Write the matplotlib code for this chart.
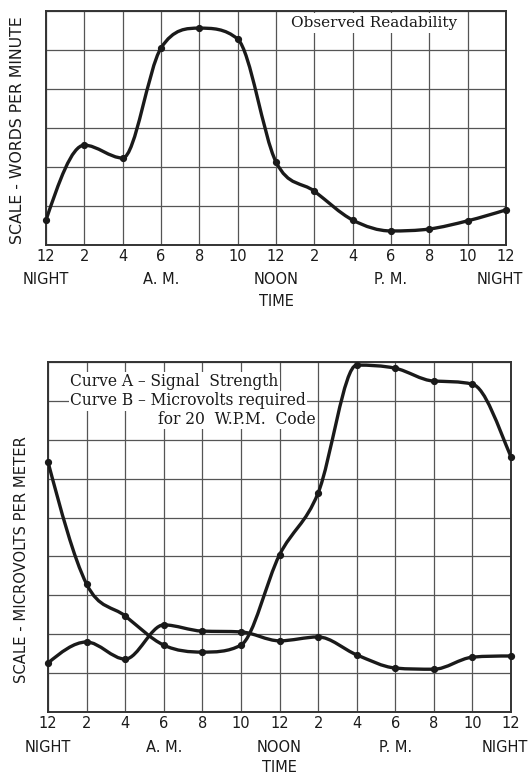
import numpy as np
import matplotlib
matplotlib.use("Agg")
import matplotlib.pyplot as plt
from matplotlib.path import Path
from matplotlib.patches import PathPatch

# hours after midnight, one reading every two hours
hours = [0, 2, 4, 6, 8, 10, 12, 14, 16, 18, 20, 22, 24]
hour_labels = ["12", "2", "4", "6", "8", "10", "12", "2", "4", "6", "8", "10", "12"]

# top chart: observed readability (words per minute scale)
readability = [0.64, 2.56, 2.23, 5.05, 5.56, 5.28, 2.13, 1.38, 0.64, 0.36, 0.41, 0.62, 0.90]

# bottom chart: microvolts per meter scale
curve_a = [6.43, 3.29, 2.47, 1.72, 1.54, 1.72, 4.04, 5.63, 8.92, 8.84, 8.51, 8.43, 6.56]
curve_b = [1.26, 1.80, 1.36, 2.24, 2.08, 2.06, 1.83, 1.93, 1.47, 1.13, 1.10, 1.41, 1.44]

period_x = [0, 6, 12, 18, 23.7]
period_names = ["NIGHT", "A. M.", "NOON", "P. M.", "NIGHT"]

INK = "#1a1a1a"
SANS = "DejaVu Sans"
SERIF = "DejaVu Serif"


def end_slope(d0, m1):
    m = (3 * d0 - m1) / 2
    if m * d0 <= 0:
        return 0.0
    return float(np.clip(m, -3 * abs(d0), 3 * abs(d0)))


def smooth_path(xs, ys):
    # monotone cubic (Fritsch-Carlson) through the readings, as bezier segments
    x = np.asarray(xs, float)
    y = np.asarray(ys, float)
    h = np.diff(x)
    d = np.diff(y) / h
    m = np.zeros_like(y)
    for k in range(1, len(y) - 1):
        if d[k - 1] * d[k] > 0:
            m[k] = (d[k - 1] + d[k]) / 2
    m[0] = end_slope(d[0], m[1])
    m[-1] = end_slope(d[-1], m[-2])
    for k in range(len(d)):
        if d[k] == 0:
            m[k] = m[k + 1] = 0
            continue
        a, b = m[k] / d[k], m[k + 1] / d[k]
        s = a * a + b * b
        if s > 9:
            t = 3 / np.sqrt(s)
            m[k], m[k + 1] = t * a * d[k], t * b * d[k]
    verts = [(x[0], y[0])]
    codes = [Path.MOVETO]
    for k in range(len(d)):
        verts += [(x[k] + h[k] / 3, y[k] + m[k] * h[k] / 3),
                  (x[k + 1] - h[k] / 3, y[k + 1] - m[k + 1] * h[k] / 3),
                  (x[k + 1], y[k + 1])]
        codes += [Path.CURVE4] * 3
    return Path(verts, codes)


def draw_curve(ax, ys):
    ax.add_patch(PathPatch(smooth_path(hours, ys), fill=False, ec=INK, lw=2.4,
                           capstyle="round", joinstyle="round", zorder=3))
    ax.plot(hours, ys, "o", color=INK, ms=4.2, zorder=4, clip_on=False)


def style_axes(ax, ymax):
    ax.set_xlim(0, 24)
    ax.set_ylim(0, ymax)
    ax.set_xticks(hours)
    ax.set_xticklabels(hour_labels, fontsize=10.5, family=SANS, color=INK)
    ax.set_yticks(range(ymax + 1))
    ax.set_yticklabels([])
    ax.tick_params(length=0, pad=3)
    ax.grid(True, color="#555555", lw=0.9)
    ax.set_axisbelow(True)
    for s in ax.spines.values():
        s.set_color("#333333")
        s.set_linewidth(1.4)
    for x, name in zip(period_x, period_names):
        ax.annotate(name, xy=(x, 0), xycoords=("data", "axes fraction"),
                    xytext=(0, -35), textcoords="offset pixels",
                    ha="center", va="center", fontsize=10.5, family=SANS, color=INK)


fig = plt.figure(figsize=(5.28, 7.75), dpi=100)

ax1 = fig.add_axes([46 / 528, 1 - 245 / 775, 460 / 528, 234 / 775])
style_axes(ax1, 6)
draw_curve(ax1, readability)
ax1.annotate("TIME", xy=(12, 0), xycoords=("data", "axes fraction"),
             xytext=(0, -57), textcoords="offset pixels",
             ha="center", va="center", fontsize=10.5, family=SANS, color=INK)
ax1.text(17.1, 5.69, "Observed Readability", ha="center", va="center",
         fontsize=11, family=SERIF, color=INK, zorder=2,
         bbox=dict(fc="white", ec="none", pad=2))
fig.text(18 / 528, 1 - 130 / 775, "SCALE - WORDS PER MINUTE", rotation=90,
         ha="center", va="center", fontsize=11.3, family=SANS, color=INK)

ax2 = fig.add_axes([48 / 528, 1 - 712 / 775, 463 / 528, 350 / 775])
style_axes(ax2, 9)
draw_curve(ax2, curve_a)
draw_curve(ax2, curve_b)
ax2.annotate("TIME", xy=(12, 0), xycoords=("data", "axes fraction"),
             xytext=(0, -55), textcoords="offset pixels",
             ha="center", va="center", fontsize=10.5, family=SANS, color=INK)
fig.text(22 / 528, 1 - 560 / 775, "SCALE - MICROVOLTS PER METER", rotation=90,
         ha="center", va="center", fontsize=10.6, family=SANS, color=INK)
legend_lines = [(1.15, 8.50, "Curve A \u2013 Signal  Strength"),
                (1.15, 8.00, "Curve B \u2013 Microvolts required"),
                (5.7, 7.53, "for 20  W.P.M.  Code")]
for x, y, txt in legend_lines:
    ax2.text(x, y, txt, ha="left", va="center", fontsize=11.2, family=SERIF,
             color=INK, zorder=2, bbox=dict(fc="white", ec="none", pad=1))

fig.savefig("out.png", dpi=100, facecolor="white")
